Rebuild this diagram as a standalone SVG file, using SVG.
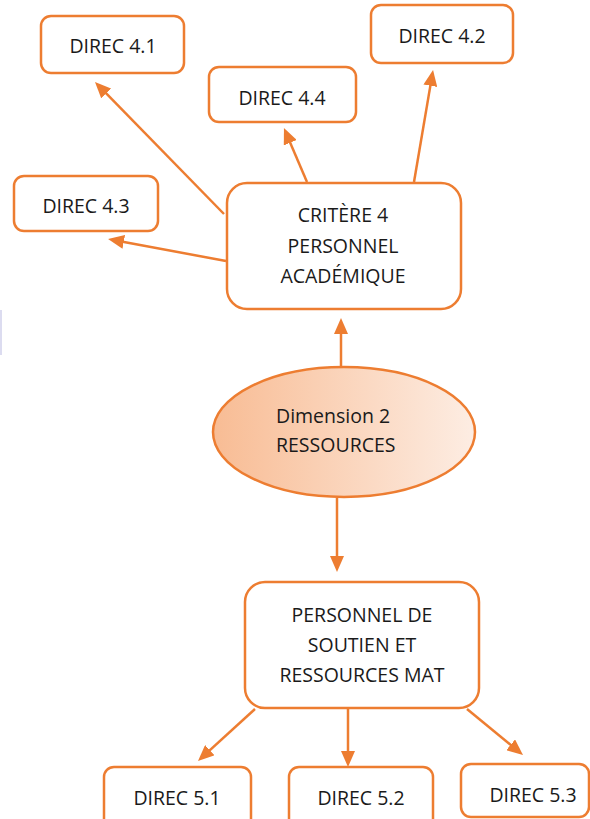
<svg xmlns="http://www.w3.org/2000/svg" width="590" height="819" viewBox="0 0 590 819">
<style>
.box{fill:#fff;stroke:#ED7D31;stroke-width:2.5}
.t{font-family:"Open Sans","Liberation Sans",sans-serif;font-size:19.5px;fill:#1a1a1a;text-anchor:middle}
.tl{font-family:"Open Sans","Liberation Sans",sans-serif;font-size:19.5px;fill:#1a1a1a}
.c{stroke:#ED7D31;stroke-width:2.5;fill:none;marker-end:url(#ah)}
</style>
<defs>
<marker id="ah" markerUnits="userSpaceOnUse" markerWidth="16" markerHeight="14" viewBox="0 0 16 14" refX="8" refY="7" orient="auto">
<path d="M0,0 L16,7 L0,14 z" fill="#ED7D31"/>
</marker>
<linearGradient id="g" x1="0" y1="0" x2="1" y2="0">
<stop offset="0" stop-color="#F8BC94"/>
<stop offset="1" stop-color="#FDEDE3"/>
</linearGradient>
</defs>
<rect x="0" y="310" width="2" height="45" fill="#dcdcf0"/>
<g id="connectors">
<line class="c" x1="224" y1="214" x2="100.6" y2="87.7"/>
<line class="c" x1="226" y1="261" x2="115.9" y2="240.5"/>
<line class="c" x1="307" y1="182" x2="287.1" y2="135.4"/>
<line class="c" x1="414" y1="182" x2="431.7" y2="77.9"/>
<line class="c" x1="341" y1="366" x2="341" y2="326"/>
<line class="c" x1="337" y1="498" x2="337" y2="564"/>
<line class="c" x1="255" y1="709" x2="203.9" y2="755.6"/>
<line class="c" x1="348" y1="709" x2="348" y2="759"/>
<line class="c" x1="467" y1="709" x2="516.8" y2="749.9"/>
</g>
<g id="direc41"><rect class="box" x="41" y="16" width="143" height="57" rx="10"/><text class="t" x="113" y="53">DIREC 4.1</text></g>
<g id="direc44"><rect class="box" x="209" y="67" width="147" height="55" rx="10"/><text class="t" x="282" y="105">DIREC 4.4</text></g>
<g id="direc42"><rect class="box" x="371" y="5" width="142" height="58" rx="10"/><text class="t" x="442" y="43">DIREC 4.2</text></g>
<g id="direc43"><rect class="box" x="14" y="176" width="144" height="55" rx="10"/><text class="t" x="86" y="213">DIREC 4.3</text></g>
<g id="critere4"><rect class="box" x="227" y="183" width="234" height="126" rx="20"/>
<text class="t" x="343" y="222">CRITÈRE 4</text><text class="t" x="343" y="253">PERSONNEL</text><text class="t" x="343" y="283">ACADÉMIQUE</text></g>
<g id="dimension2"><ellipse cx="344" cy="432" rx="131" ry="65" fill="url(#g)" stroke="#ED7D31" stroke-width="2.5"/>
<text class="tl" x="276" y="423">Dimension 2</text><text class="tl" x="276" y="452">RESSOURCES</text></g>
<g id="personnel"><rect class="box" x="245" y="582" width="234" height="126" rx="20"/>
<text class="t" x="362" y="622">PERSONNEL DE</text><text class="t" x="362" y="652">SOUTIEN ET</text><text class="t" x="362" y="682">RESSOURCES MAT</text></g>
<g id="direc51"><rect class="box" x="104" y="767" width="147" height="70" rx="10"/><text class="t" x="177" y="805">DIREC 5.1</text></g>
<g id="direc52"><rect class="box" x="289" y="767" width="144" height="70" rx="10"/><text class="t" x="361" y="805">DIREC 5.2</text></g>
<g id="direc53"><rect class="box" x="461" y="764" width="128" height="53" rx="10"/><text class="t" x="533" y="802">DIREC 5.3</text></g>
</svg>
